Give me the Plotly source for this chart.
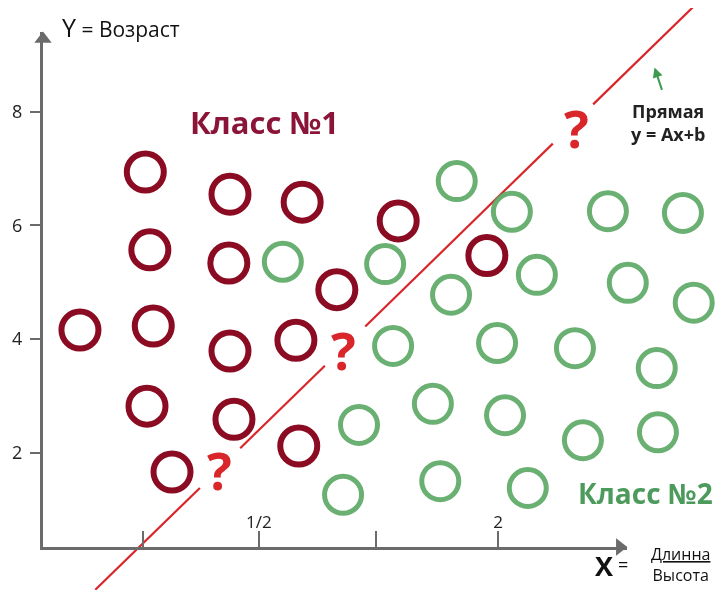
import plotly.graph_objects as go

# data units: y = "Возраст" axis units, x = same scale, origin at the y axis
CLASS1_X = [1.80, 3.29, 4.56, 6.25, 1.88, 3.27, 5.17, 7.81, 0.65, 1.94, 3.29, 4.45, 1.83, 3.36, 4.50, 2.27]
CLASS1_Y = [6.94, 6.55, 6.41, 6.08, 5.57, 5.34, 4.87, 5.47, 4.16, 4.23, 3.79, 3.98, 2.82, 2.59, 2.12, 1.66]

CLASS2_X = [7.28, 8.25, 9.94, 11.26, 4.22, 6.02, 8.69, 7.18, 10.29, 11.45, 6.16, 7.99,
            9.36, 10.80, 6.86, 8.13, 5.56, 9.50, 10.82, 5.28, 6.99, 8.53]
CLASS2_Y = [6.78, 6.24, 6.25, 6.22, 5.36, 5.32, 5.13, 4.78, 4.99, 4.64, 3.88, 3.93,
            3.84, 3.49, 2.86, 2.66, 2.49, 2.22, 2.36, 1.26, 1.50, 1.38]

# the separating line y = Ax + b, broken where the question marks sit
LINE_X = [0.92, 2.76, None, 3.47, 4.96, None, 5.67, 8.97, None, 9.68, 12.0]
LINE_Y = [-0.41, 1.38, None, 2.08, 3.53, None, 4.22, 7.44, None, 8.13, 10.39]

# question marks sitting on the line
Q_X = [3.11, 5.28, 9.38]
Q_Y = [1.70, 3.81, 7.73]

X_TICKS = [1.76, 3.80, 5.86, 8.01]
X_TICKTEXT = ["", "1/2", "", "2"]
Y_TICKS = [2, 4, 6, 8]

RED = "#8a0b22"
GREEN = "#5aa862"
LINE_RED = "#d8262b"
AXIS = "#6b6b6b"
FONT = "Open Sans"

fig = go.Figure()

fig.add_trace(go.Scatter(x=LINE_X, y=LINE_Y, mode="lines", connectgaps=False,
                         line=dict(color=LINE_RED, width=2.2), showlegend=False, hoverinfo="skip"))
fig.add_trace(go.Scatter(x=CLASS1_X, y=CLASS1_Y, mode="markers", name="Класс №1",
                         marker=dict(symbol="circle-open", size=37, color=RED,
                                     line=dict(color=RED, width=6)),
                         showlegend=False))
fig.add_trace(go.Scatter(x=CLASS2_X, y=CLASS2_Y, mode="markers", name="Класс №2",
                         marker=dict(symbol="circle-open", size=37, color=GREEN,
                                     line=dict(color=GREEN, width=5)),
                         opacity=0.9, showlegend=False))
# arrow heads on the ends of the axes
fig.add_trace(go.Scatter(x=[10.15, 0.0], y=[0.341, 9.28], mode="markers",
                         marker=dict(symbol=["triangle-right", "triangle-up"], size=15, color=AXIS),
                         cliponaxis=False, showlegend=False, hoverinfo="skip"))
# empty trace so the decorative axis pair gets drawn
fig.add_trace(go.Scatter(x=[], y=[], xaxis="x2", yaxis="y2", showlegend=False))

for qx, qy in zip(Q_X, Q_Y):
    fig.add_annotation(x=qx, y=qy, text="<b>?</b>", showarrow=False,
                       font=dict(family=FONT, size=52, color=LINE_RED))

fig.add_annotation(x=3.90, y=7.82, text="<b>Класс №1</b>", showarrow=False,
                   font=dict(family=FONT, size=31, color="#8b1538"))
fig.add_annotation(x=10.60, y=1.29, text="<b>Класс №2</b>", showarrow=False,
                   font=dict(family=FONT, size=28, color="#4c9a5c"))
fig.add_annotation(x=11.0, y=7.82, text="<b>Прямая</b><br><b>y = Ax+b</b>", showarrow=False,
                   font=dict(family=FONT, size=18, color="#222"))
fig.add_annotation(x=10.76, y=8.78, ax=10.90, ay=8.36, axref="x", ayref="y", text="",
                   showarrow=True, arrowhead=2, arrowsize=1, arrowwidth=2, arrowcolor="#3d9a4f")
fig.add_annotation(x=0.30, y=9.50, xanchor="left", showarrow=False,
                   text="<span style='font-size:25px'>Y</span> = Возраст",
                   font=dict(family=FONT, size=21, color="#111"))
fig.add_annotation(x=9.88, y=0.02, showarrow=False,
                   text="<b>X</b>", font=dict(family=FONT, size=27, color="#111"))
fig.add_annotation(x=10.20, y=0.04, showarrow=False,
                   text="=", font=dict(family=FONT, size=18, color="#111"))
fig.add_annotation(x=11.22, y=0.03, showarrow=False,
                   text="<u>Длинна</u><br>Высота", font=dict(family=FONT, size=16, color="#111"))

fig.update_layout(
    width=723, height=590, autosize=False,
    margin=dict(l=0, r=0, t=0, b=0),
    paper_bgcolor="white", plot_bgcolor="rgba(0,0,0,0)",
    xaxis=dict(domain=[0, 1], range=[-0.616, 12.106], visible=False),
    yaxis=dict(domain=[0, 1], range=[-0.556, 9.826], visible=False),
    xaxis2=dict(domain=[35 / 723, 619 / 723], range=[0, 10.276], anchor="y2",
                showline=True, linecolor=AXIS, linewidth=3, showgrid=False, zeroline=False,
                ticks="inside", ticklen=16, tickwidth=2, tickcolor=AXIS,
                tickvals=X_TICKS, ticktext=X_TICKTEXT, ticklabelposition="inside",
                tickfont=dict(family=FONT, size=17, color="#222")),
    yaxis2=dict(domain=[51 / 590, 566 / 590], range=[0.341, 9.403], anchor="x2",
                showline=True, linecolor=AXIS, linewidth=3, showgrid=False, zeroline=False,
                ticks="outside", ticklen=10, tickwidth=2, tickcolor=AXIS, ticklabelstandoff=4,
                tickvals=Y_TICKS, tickfont=dict(family=FONT, size=18, color="#222")),
)

fig.write_html("out.html")
